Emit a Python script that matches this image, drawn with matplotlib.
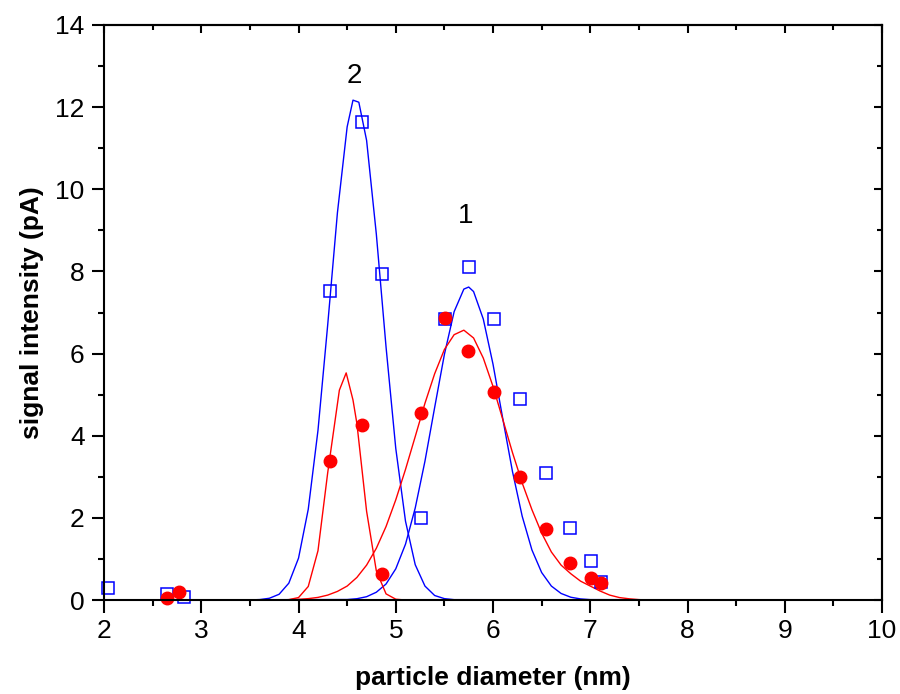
import matplotlib
matplotlib.use("Agg")
from matplotlib import pyplot as plt
from matplotlib.ticker import MultipleLocator

plt.rcParams['font.family'] = ['Liberation Sans', 'DejaVu Sans']

# measured points, sample 2 (blue squares) and sample 1 (red circles)
sq_x = [2.04, 2.65, 2.82, 4.32, 4.65, 4.86, 5.26, 5.51, 5.75, 6.01, 6.28, 6.54, 6.79, 7.01, 7.11]
sq_y = [0.29, 0.15, 0.07, 7.52, 11.64, 7.94, 2.00, 6.84, 8.12, 6.84, 4.90, 3.09, 1.75, 0.95, 0.44]
ci_x = [2.65, 2.77, 4.32, 4.65, 4.86, 5.26, 5.51, 5.74, 6.01, 6.28, 6.54, 6.79, 7.01, 7.11]
ci_y = [0.05, 0.20, 3.38, 4.26, 0.63, 4.55, 6.87, 6.06, 5.07, 2.99, 1.73, 0.90, 0.54, 0.41]

# fitted curves
blue2_x = [2.0, 3.5, 3.6, 3.7, 3.8, 3.9, 4.0, 4.1, 4.2, 4.3, 4.4, 4.5, 4.56, 4.62, 4.7,
           4.8, 4.9, 5.0, 5.1, 5.2, 5.3, 5.4, 5.5, 5.6, 10.0]
blue2_y = [0.0, 0.003, 0.011, 0.043, 0.14, 0.41, 1.02, 2.21, 4.13, 6.70, 9.43, 11.52, 12.17, 12.12, 11.19,
           8.91, 6.16, 3.69, 1.92, 0.86, 0.34, 0.11, 0.034, 0.009, 0.0]

red2_x = [2.0, 3.8, 3.9, 4.0, 4.1, 4.2, 4.3, 4.42, 4.49, 4.56, 4.6, 4.7, 4.8, 4.9, 5.0, 5.1, 10.0]
red2_y = [0.0, 0.0, 0.01, 0.06, 0.33, 1.2, 3.1, 5.11, 5.53, 4.87, 4.3, 2.16, 0.71, 0.15, 0.02, 0.0, 0.0]

blue1_x = [2.0, 4.5, 4.6, 4.7, 4.8, 4.9, 5.0, 5.1, 5.2, 5.3, 5.4, 5.5, 5.6, 5.7, 5.75, 5.8,
           5.9, 6.0, 6.1, 6.2, 6.3, 6.4, 6.5, 6.6, 6.7, 6.8, 6.9, 7.0, 10.0]
blue1_y = [0.0, 0.012, 0.032, 0.081, 0.19, 0.39, 0.76, 1.36, 2.24, 3.38, 4.69, 5.98, 7.02, 7.57, 7.62, 7.51,
           6.84, 5.74, 4.42, 3.13, 2.04, 1.22, 0.67, 0.34, 0.16, 0.068, 0.027, 0.01, 0.0]

red1_x = [2.0, 3.9, 4.0, 4.1, 4.2, 4.3, 4.4, 4.5, 4.6, 4.7, 4.8, 4.9, 5.0, 5.1, 5.2, 5.3, 5.4, 5.5,
          5.6, 5.7, 5.8, 5.9, 6.0, 6.1, 6.2, 6.3, 6.4, 6.5, 6.6, 6.7, 6.8, 6.9, 7.0, 7.1, 7.2,
          7.3, 7.4, 7.5, 7.6, 10.0]
red1_y = [0.0, 0.008, 0.017, 0.034, 0.064, 0.12, 0.21, 0.34, 0.55, 0.85, 1.26, 1.79, 2.44, 3.18, 3.98, 4.79, 5.51, 6.10,
          6.46, 6.57, 6.38, 5.89, 5.20, 4.40, 3.59, 2.85, 2.20, 1.63, 1.17, 0.85, 0.64, 0.46, 0.34, 0.22, 0.12,
          0.06, 0.03, 0.01, 0.0, 0.0]

fig = plt.figure(figsize=(9, 6.94), dpi=100)
ax = fig.add_axes([0.1156, 0.1354, 0.8644, 0.8286])

ax.plot(blue2_x, blue2_y, color='#0000ff', lw=1.0)
ax.plot(blue1_x, blue1_y, color='#0000ff', lw=1.0)
ax.plot(red2_x, red2_y, color='#ff0000', lw=1.0)
ax.plot(red1_x, red1_y, color='#ff0000', lw=1.0)
ax.plot(sq_x, sq_y, 's', ms=8.5, mfc='none', mec='#0000ff', mew=1.1, clip_on=False)
ax.plot(ci_x, ci_y, 'o', ms=9, mfc='#ff0000', mec='#ff0000', clip_on=False)

ax.text(4.57, 12.75, '2', fontsize=20, ha='center', va='center')
ax.text(5.72, 9.35, '1', fontsize=20, ha='center', va='center')

ax.set_xlim(2, 10)
ax.set_ylim(0, 14)
ax.xaxis.set_major_locator(MultipleLocator(1))
ax.xaxis.set_minor_locator(MultipleLocator(0.5))
ax.yaxis.set_major_locator(MultipleLocator(2))
ax.yaxis.set_minor_locator(MultipleLocator(1))
ax.tick_params(which='major', direction='out', length=9, width=1.5, labelsize=19, pad=5)
ax.tick_params(which='minor', direction='out', length=4.5, width=1.5)

for s in ax.spines.values():
    s.set_linewidth(1.5)

top = ax.secondary_xaxis('top')
top.xaxis.set_major_locator(MultipleLocator(1))
top.xaxis.set_minor_locator(MultipleLocator(0.5))
top.tick_params(which='major', direction='in', length=6, width=1.5, labeltop=False)
top.tick_params(which='minor', direction='in', length=3.5, width=1.5)
right = ax.secondary_yaxis('right')
right.yaxis.set_major_locator(MultipleLocator(2))
right.yaxis.set_minor_locator(MultipleLocator(1))
right.tick_params(which='major', direction='in', length=6, width=1.5, labelright=False)
right.tick_params(which='minor', direction='in', length=3.5, width=1.5)
top.spines['top'].set_linewidth(1.5)
right.spines['right'].set_linewidth(1.5)

ax.set_xlabel('particle diameter (nm)', fontsize=19, fontweight='bold', labelpad=16)
ax.set_ylabel('signal intensity (pA)', fontsize=19, fontweight='bold', labelpad=8)

fig.savefig('out.png', dpi=100)
